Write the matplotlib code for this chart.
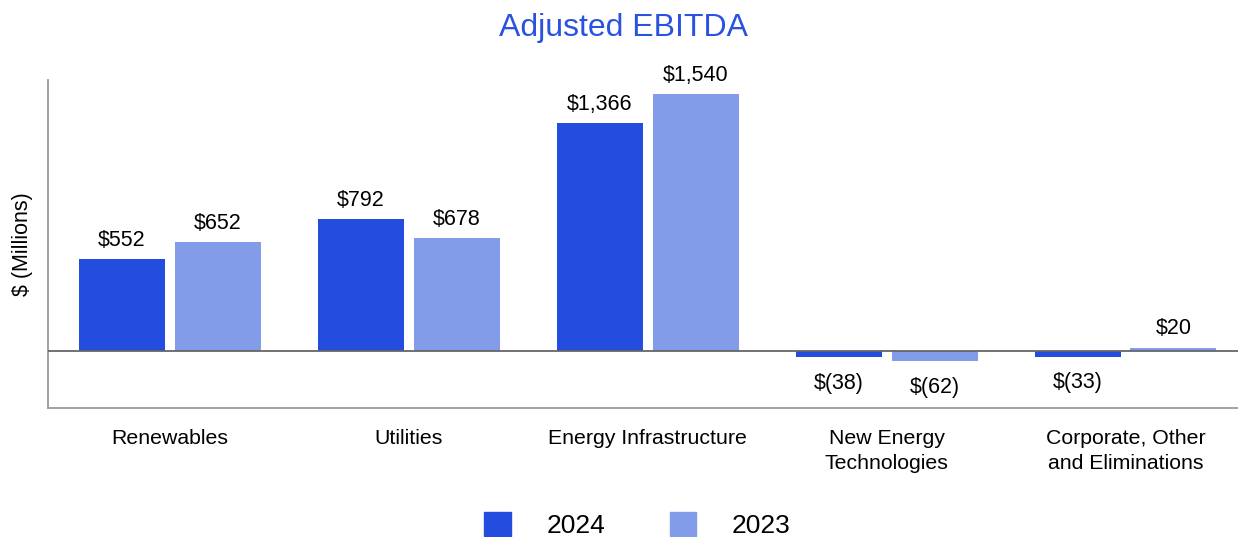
import numpy as np
import matplotlib
matplotlib.use('Agg')
import matplotlib.pyplot as plt
from matplotlib.patches import Patch

plt.rcParams['font.family'] = ['Liberation Sans', 'DejaVu Sans']

categorias = ['Renewables', 'Utilities', 'Energy Infrastructure',
              'New Energy\nTechnologies', 'Corporate, Other\nand Eliminations']
valores_2024 = [552, 792, 1366, -38, -33]
valores_2023 = [652, 678, 1540, -62, 20]
etiquetas_2024 = ['$552', '$792', '$1,366', '$(38)', '$(33)']
etiquetas_2023 = ['$652', '$678', '$1,540', '$(62)', '$20']

azul_oscuro = '#234ddf'
azul_claro = '#829ce9'

fig = plt.figure(figsize=(12.38, 5.37), dpi=100)
ax = fig.add_axes([0.0388, 0.2402, 0.9612, 0.6108])

x = np.arange(len(categorias))
ancho = 0.36
desp = 0.2
b1 = ax.bar(x - desp, valores_2024, ancho, color=azul_oscuro, zorder=2)
b2 = ax.bar(x + desp, valores_2023, ancho, color=azul_claro, zorder=2)

for barras, etiquetas in [(b1, etiquetas_2024), (b2, etiquetas_2023)]:
    for b, txt in zip(barras, etiquetas):
        h = b.get_height()
        cx = b.get_x() + b.get_width() / 2
        if h >= 0:
            ax.annotate(txt, (cx, h), xytext=(0, 6), textcoords='offset points',
                        ha='center', va='bottom', fontsize=15.5)
        else:
            ax.annotate(txt, (cx, h), xytext=(0, -11), textcoords='offset points',
                        ha='center', va='top', fontsize=15.5)

ax.axhline(0, color='#666666', linewidth=1.3, zorder=3)
ax.set_xlim(-0.51, 4.47)
ax.set_ylim(-341, 1624)
ax.set_yticks([])
ax.set_xticks(x)
ax.set_xticklabels(categorias, fontsize=15.3, linespacing=1.4)
ax.tick_params(axis='x', length=0, pad=15)
ax.spines['top'].set_visible(False)
ax.spines['right'].set_visible(False)
ax.spines['left'].set_color('#9a9a9a')
ax.spines['bottom'].set_color('#9a9a9a')
ax.spines['left'].set_linewidth(1.3)
ax.spines['bottom'].set_linewidth(1.3)
ax.set_ylabel('$ (Millions)', fontsize=15.5, labelpad=11)

fig.text(0.504, 0.948, 'Adjusted EBITDA', color='#2a52e0', fontsize=23,
         ha='center', va='center')

handles = [Patch(color=azul_oscuro, label='2024'), Patch(color=azul_claro, label='2023')]
fig.legend(handles=handles, loc='center', ncol=2, frameon=False, fontsize=19,
           handlelength=1.0, handleheight=1.0, handletextpad=1.35, columnspacing=2.45,
           bbox_to_anchor=(0.515, 0.022))

fig.savefig('out.png', dpi=100)
